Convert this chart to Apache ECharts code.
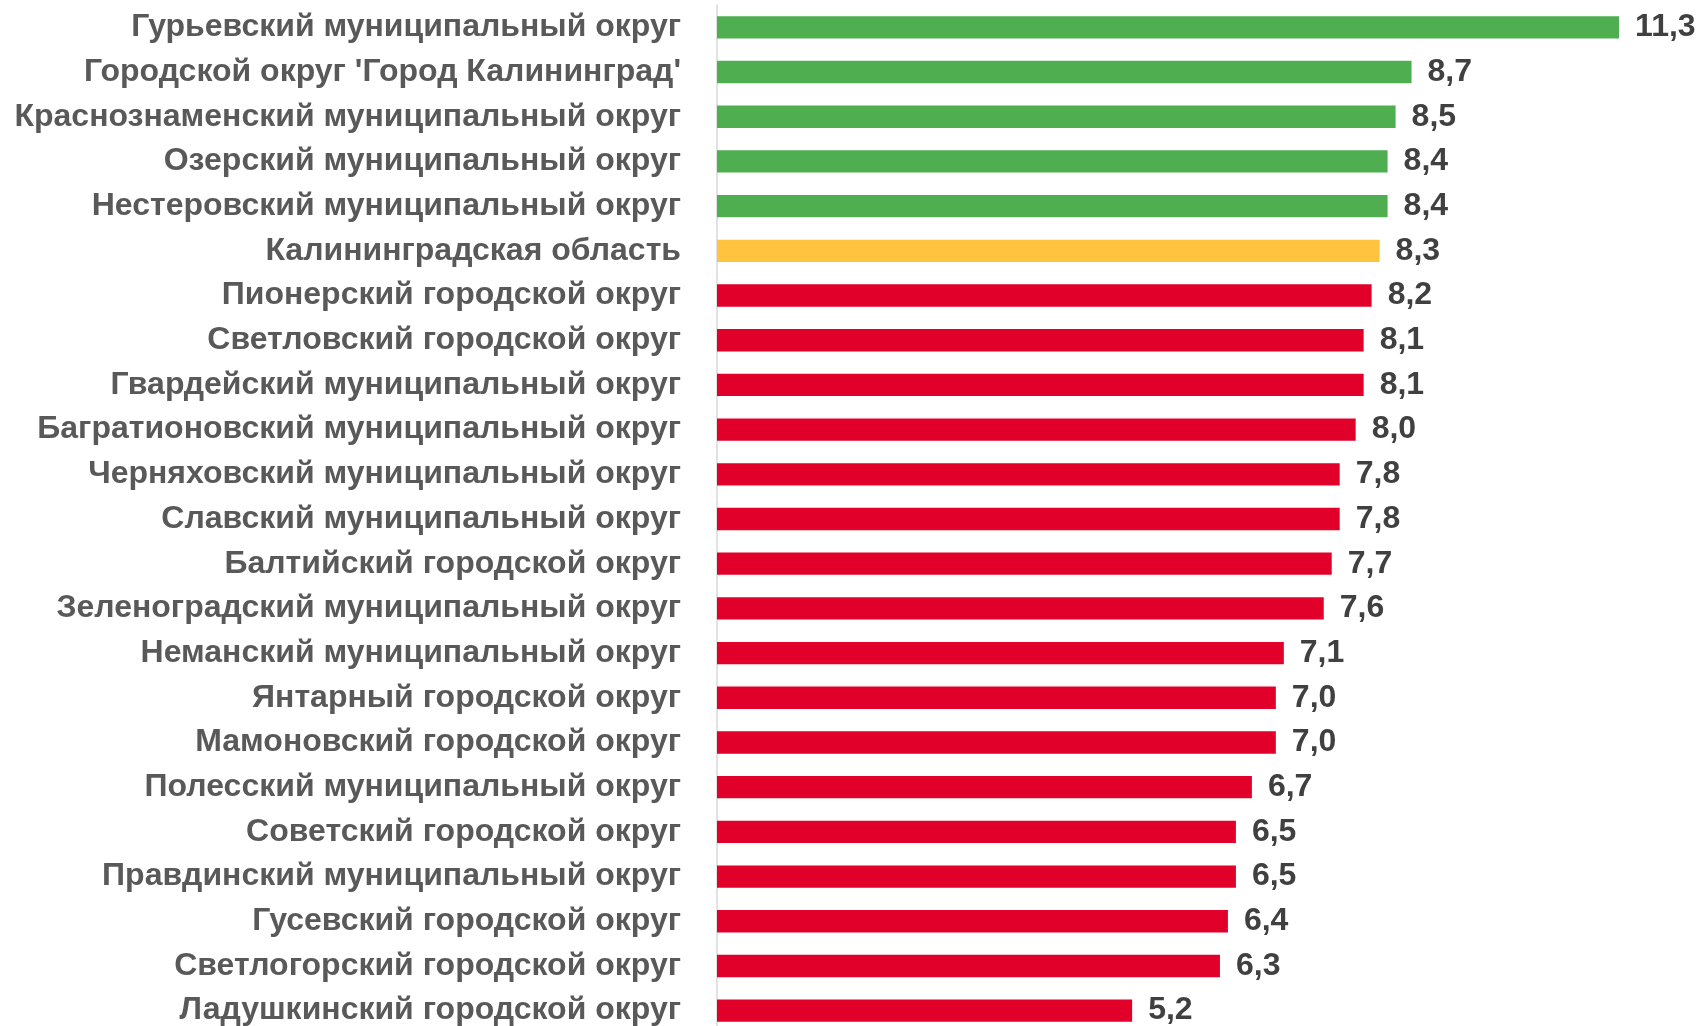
<!DOCTYPE html>
<html><head><meta charset="utf-8">
<script src="https://cdn.jsdelivr.net/npm/echarts@6/dist/echarts.min.js"></script>
<style>html,body{margin:0;padding:0;background:#fff}#c{width:1701px;height:1026px}</style>
</head><body><div id="c"></div>
<script>
const categories = [
"Гурьевский муниципальный округ",
"Городской округ 'Город Калининград'",
"Краснознаменский муниципальный округ",
"Озерский муниципальный округ",
"Нестеровский муниципальный округ",
"Калининградская область",
"Пионерский городской округ",
"Светловский городской округ",
"Гвардейский муниципальный округ",
"Багратионовский муниципальный округ",
"Черняховский муниципальный округ",
"Славский муниципальный округ",
"Балтийский городской округ",
"Зеленоградский муниципальный округ",
"Неманский муниципальный округ",
"Янтарный городской округ",
"Мамоновский городской округ",
"Полесский муниципальный округ",
"Советский городской округ",
"Правдинский муниципальный округ",
"Гусевский городской округ",
"Светлогорский городской округ",
"Ладушкинский городской округ"
];
const values = [11.3, 8.7, 8.5, 8.4, 8.4, 8.3, 8.2, 8.1, 8.1, 8.0, 7.8, 7.8, 7.7, 7.6, 7.1, 7.0, 7.0, 6.7, 6.5, 6.5, 6.4, 6.3, 5.2];
const regionName = "Калининградская область";

const GREEN = '#4EAE50', YELLOW = '#FFC340', RED = '#E0002A';
const regionValue = values[categories.indexOf(regionName)];
const data = values.map((v, i) => ({
  value: v,
  itemStyle: { color: categories[i] === regionName ? YELLOW : (v > regionValue ? GREEN : RED) }
}));
const FONT = '"Liberation Sans Narrow", "Arial Narrow", "Liberation Sans", Arial, sans-serif';
const chart = echarts.init(document.getElementById('c'), null, { renderer: 'canvas' });
chart.setOption({
  animation: false,
  backgroundColor: '#fff',
  grid: { left: 717, top: 5, width: 958, height: 1028, containLabel: false, outerBoundsMode: 'none' },
  xAxis: { type: 'value', min: 0, max: 12, show: false },
  yAxis: {
    type: 'category', data: categories, inverse: true,
    axisLine: { show: true, lineStyle: { color: '#D9D9D9', width: 1.5 } },
    axisTick: { show: false },
    axisLabel: { color: '#595959', fontFamily: FONT, fontWeight: 'bold', fontSize: 32, margin: 36 }
  },
  series: [{
    type: 'bar', data: data, barCategoryGap: '50%',
    label: { show: true, position: 'right', distance: 16, color: '#404040', fontFamily: FONT, fontWeight: 'bold', fontSize: 32,
      formatter: p => p.value.toFixed(1).replace('.', ',') }
  }]
});
</script></body></html>
